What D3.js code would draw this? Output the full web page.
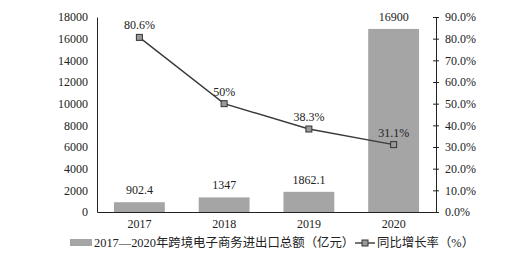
<!DOCTYPE html>
<html>
<head>
<meta charset="utf-8">
<script src="https://cdn.jsdelivr.net/npm/d3@7"></script>
<style>
  body { margin: 0; background: #fff; }
  text { font-family: "Liberation Serif", "Times New Roman", "Noto Sans CJK SC", serif; fill: #222; }
</style>
</head>
<body>
<div id="chart"></div>
<script>
var width = 513;
var height = 265;

// data
var years = ["2017", "2018", "2019", "2020"];
var totals = [902.4, 1347, 1862.1, 16900];      // 亿元
var growth = [80.6, 50, 38.3, 31.1];            // %
var totalLabels = ["902.4", "1347", "1862.1", "16900"];
var growthLabels = ["80.6%", "50%", "38.3%", "31.1%"];
var leftTicks = [0, 2000, 4000, 6000, 8000, 10000, 12000, 14000, 16000, 18000];
var rightTicks = [0, 10, 20, 30, 40, 50, 60, 70, 80, 90];

var margin = {left: 97, right: 77, top: 17, bottom: 53};
var plotW = width - margin.left - margin.right;
var plotH = height - margin.top - margin.bottom;

var svg = d3.select("#chart").append("svg")
  .attr("width", width)
  .attr("height", height);

var g = svg.append("g")
  .attr("transform", "translate(" + margin.left + "," + margin.top + ")");

var x = d3.scaleBand().domain(years).range([0, plotW]).paddingInner(0.4).paddingOuter(0.2);
var yL = d3.scaleLinear().domain([0, 18000]).range([plotH, 0]);
var yR = d3.scaleLinear().domain([0, 90]).range([plotH, 0]);

// bars
g.selectAll("rect.bar").data(totals).enter().append("rect")
  .attr("class", "bar")
  .attr("x", (d, i) => x(years[i]))
  .attr("y", d => yL(d))
  .attr("width", x.bandwidth())
  .attr("height", d => plotH - yL(d))
  .style("fill", "#a5a5a5");

// bar labels
g.selectAll("text.blab").data(totals).enter().append("text")
  .attr("class", "blab")
  .attr("x", (d, i) => x(years[i]) + x.bandwidth() / 2)
  .attr("y", d => yL(d) - 8)
  .attr("text-anchor", "middle")
  .style("font-size", "12px")
  .text((d, i) => totalLabels[i]);

// left axis
var axL = g.append("g").call(d3.axisLeft(yL).tickValues(leftTicks).tickSize(0).tickPadding(9).tickFormat(d3.format("d")));
axL.select(".domain").attr("stroke", "#222");
axL.selectAll("text").style("font-size", "12px").style("font-family", "Liberation Serif");

// right axis
var axR = g.append("g").attr("transform", "translate(" + plotW + ",0)")
  .call(d3.axisRight(yR).tickValues(rightTicks).tickSize(3).tickPadding(6).tickFormat(d => d.toFixed(1) + "%"));
axR.select(".domain").attr("stroke", "#222");
axR.selectAll(".tick line").attr("x1", -3).attr("stroke", "#222");
axR.selectAll("text").style("font-size", "12px").style("font-family", "Liberation Serif");

// bottom axis
var axB = g.append("g").attr("transform", "translate(0," + plotH + ")")
  .call(d3.axisBottom(x).tickSize(0).tickPadding(7));
axB.select(".domain").attr("stroke", "#222");
axB.selectAll("text").style("font-size", "12px").style("font-family", "Liberation Serif");

// growth line
var line = d3.line()
  .x((d, i) => x(years[i]) + x.bandwidth() / 2)
  .y(d => yR(d));

g.append("path").datum(growth)
  .attr("d", line)
  .style("fill", "none")
  .style("stroke", "#3a3a3a")
  .style("stroke-width", 1.4);

g.selectAll("rect.mk").data(growth).enter().append("rect")
  .attr("class", "mk")
  .attr("x", (d, i) => x(years[i]) + x.bandwidth() / 2 - 3)
  .attr("y", d => yR(d) - 3)
  .attr("width", 6).attr("height", 6)
  .style("fill", "#9a9a9a")
  .style("stroke", "#333")
  .style("stroke-width", 1);

g.selectAll("text.glab").data(growth).enter().append("text")
  .attr("class", "glab")
  .attr("x", (d, i) => x(years[i]) + x.bandwidth() / 2)
  .attr("y", d => yR(d) - 8)
  .attr("text-anchor", "middle")
  .style("font-size", "12px")
  .text((d, i) => growthLabels[i]);

// legend
var lg = svg.append("g").attr("transform", "translate(0,243)");
lg.append("rect").attr("x", 70).attr("y", -4).attr("width", 22).attr("height", 7).style("fill", "#a5a5a5");
lg.append("text").attr("x", 94).attr("y", 4).style("font-size", "12.4px")
  .text("2017—2020年跨境电子商务进出口总额（亿元）");
lg.append("line").attr("x1", 355).attr("x2", 375).attr("y1", 0).attr("y2", 0)
  .style("stroke", "#3a3a3a").style("stroke-width", 1.4);
lg.append("rect").attr("x", 362).attr("y", -3).attr("width", 6).attr("height", 6)
  .style("fill", "#9a9a9a").style("stroke", "#333");
lg.append("text").attr("x", 377).attr("y", 4).style("font-size", "12.4px")
  .text("同比增长率（%）");
</script>
</body>
</html>
